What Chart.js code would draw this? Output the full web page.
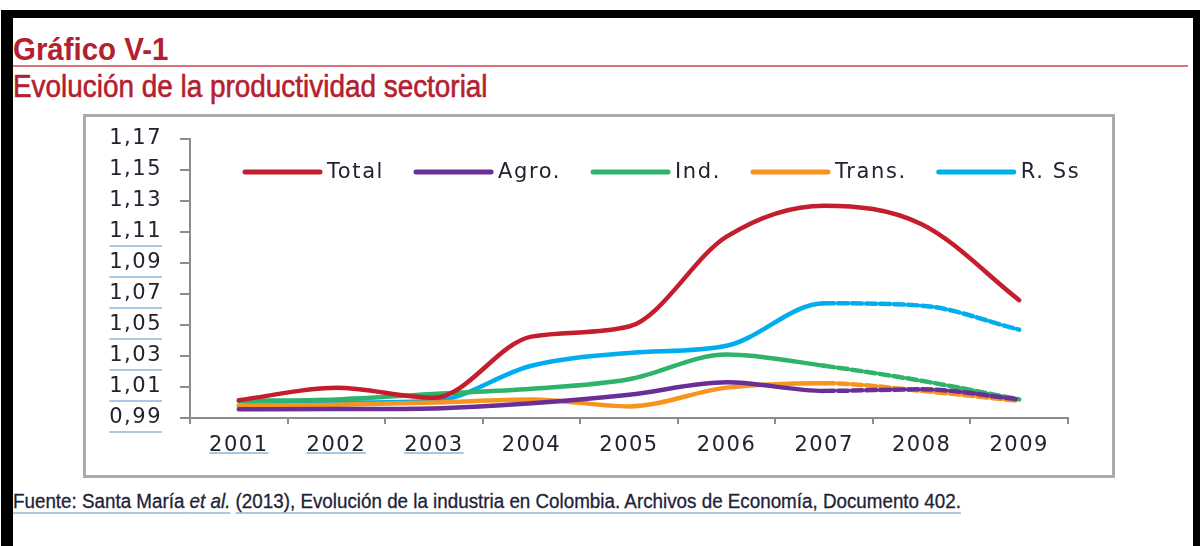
<!DOCTYPE html>
<html lang="es">
<head>
<meta charset="utf-8">
<title>Gráfico V-1</title>
<script src="https://cdn.jsdelivr.net/npm/chart.js@4.4.1/dist/chart.umd.min.js"></script>
<style>
  html, body { margin: 0; padding: 0; background: #fff; }
  body { width: 1200px; height: 546px; position: relative; overflow: hidden; }
  .frame {
    position: absolute; left: 1px; top: 10px; width: 1199px; height: 600px;
    box-sizing: border-box; border: 8px solid #000; border-left-width: 12px; border-right-width: 7px; border-bottom: none;
  }
  .title, .subtitle, .source { position: absolute; left: 13px; white-space: nowrap; line-height: 1;
    font-family: "Liberation Sans", sans-serif; transform-origin: left top; }
  .title { top: 34px; font-size: 31px; font-weight: bold; color: #b5202f; transform: scale(0.95, 1); }
  .rule { position: absolute; left: 13px; top: 65px; width: 1175px; height: 2px; background: #d9737d; }
  .subtitle { top: 71px; font-size: 31px; color: #b5202f; -webkit-text-stroke: 0.6px #b5202f; transform: scale(0.9, 1); }
  .source { top: 491px; font-size: 20px; color: #1d2338; -webkit-text-stroke: 0.3px #1d2338; transform: scale(0.94, 1); }
  .source .u { text-decoration: underline; text-decoration-color: #a9c8e4; text-decoration-thickness: 2px; text-underline-offset: 4px; }
  .box {
    position: absolute; left: 83px; top: 114px; width: 1032px; height: 364px;
    box-sizing: border-box; border: 3px solid #ababab; background: #fff;
  }
  .box canvas { position: absolute; left: 0; top: 0; }
</style>
</head>
<body>
<div class="frame"></div>
<div class="title">Gráfico V-1</div>
<div class="rule"></div>
<div class="subtitle">Evolución de la productividad sectorial</div>
<div class="box"><canvas id="chart" width="1026" height="358"></canvas></div>
<div class="source"><span class="u">Fuente: Santa María <i>et al.</i></span> <span class="u">(2013), Evolución de la industria en Colombia. Archivos de Economía, Documento 402.</span></div>

<script>
// datos
const years = ['2001', '2002', '2003', '2004', '2005', '2006', '2007', '2008', '2009'];
const total = [1.0015, 1.0095, 1.003, 1.0425, 1.049, 1.107, 1.127, 1.115, 1.066];
const agro = [0.9956, 0.9958, 0.9962, 0.9995, 1.005, 1.013, 1.0075, 1.0085, 1.002];
const ind = [1.001, 1.002, 1.0055, 1.0088, 1.015, 1.031, 1.0237, 1.014, 1.002];
const trans = [0.998, 0.9985, 1.000, 1.002, 0.9975, 1.0096, 1.0125, 1.0075, 1.001];
const rss = [0.9978, 1.000, 1.001, 1.0237, 1.032, 1.0366, 1.064, 1.0625, 1.047];
const yTicks = [0.99, 1.01, 1.03, 1.05, 1.07, 1.09, 1.11, 1.13, 1.15, 1.17];

const colors = {
  total: '#c41e2d',
  agro: '#6a2f96',
  ind: '#2fb36b',
  trans: '#f7941d',
  rss: '#00adee',
  axis: '#8c8c8c',
  text: '#232330',
  underline: '#a9c8e4'
};

const FONT = '"DejaVu Sans", sans-serif';
const SPACING = '1.5px';

// el tramo 2007-2009 va punteado (proyección)
const dashAfter2007 = ctx => ctx.p0DataIndex >= 6 ? [10, 4] : undefined;

function series(label, data, color, dashed) {
  return {
    label,
    data,
    borderColor: color,
    backgroundColor: color,
    borderWidth: 4.5,
    pointRadius: 0,
    cubicInterpolationMode: 'monotone',
    borderCapStyle: 'round',
    fill: false,
    segment: dashed ? { borderDash: dashAfter2007 } : undefined
  };
}

const spacingPlugin = {
  id: 'spacing',
  beforeLayout(chart) { chart.ctx.letterSpacing = SPACING; },
  beforeDraw(chart) { chart.ctx.letterSpacing = SPACING; }
};

// leyenda dentro del área del gráfico, en una sola fila
const innerLegend = {
  id: 'innerLegend',
  afterDatasetsDraw(chart) {
    const ctx = chart.ctx;
    let x = 159;
    const y = 55;
    ctx.save();
    ctx.letterSpacing = '1.6px';
    ctx.font = '21px ' + FONT;
    ctx.textBaseline = 'middle';
    chart.data.datasets.forEach(ds => {
      ctx.strokeStyle = ds.borderColor;
      ctx.lineWidth = 5;
      ctx.lineCap = 'round';
      ctx.setLineDash([]);
      ctx.beginPath();
      ctx.moveTo(x, y);
      ctx.lineTo(x + 75, y);
      ctx.stroke();
      ctx.fillStyle = colors.text;
      ctx.fillText(ds.label, x + 82, y + 1);
      x += 82 + ctx.measureText(ds.label).width + 32;
    });
    ctx.restore();
  }
};

// subrayados azules claros bajo algunas etiquetas (como en el original)
const labelUnderlines = {
  id: 'labelUnderlines',
  afterDraw(chart) {
    const ctx = chart.ctx;
    const { x, y } = chart.scales;
    ctx.save();
    ctx.letterSpacing = SPACING;
    ctx.font = '21px ' + FONT;
    ctx.strokeStyle = colors.underline;
    ctx.lineWidth = 2;
    y.ticks.forEach(t => {
      if (t.value > 1.115) return;
      const yy = y.getPixelForValue(t.value) + 14;
      const right = chart.chartArea.left - 28;
      const w = ctx.measureText(t.value.toFixed(2).replace('.', ',')).width;
      ctx.beginPath(); ctx.moveTo(right - w, yy); ctx.lineTo(right, yy); ctx.stroke();
    });
    [0, 1, 2].forEach(i => {
      const cx = x.getPixelForTick(i);
      const w = ctx.measureText(years[i]).width;
      const yy = chart.chartArea.bottom + 35;
      ctx.beginPath(); ctx.moveTo(cx - w / 2, yy); ctx.lineTo(cx + w / 2, yy); ctx.stroke();
    });
    ctx.restore();
  }
};

new Chart(document.getElementById('chart'), {
  type: 'line',
  data: {
    labels: years,
    datasets: [
      series('Total', total, colors.total, false),
      series('Agro.', agro, colors.agro, true),
      series('Ind.', ind, colors.ind, true),
      series('Trans.', trans, colors.trans, true),
      series('R. Ss', rss, colors.rss, true)
    ]
  },
  options: {
    responsive: false,
    animation: false,
    layout: { padding: { left: 0, right: 44, top: 22, bottom: 0 } },
    plugins: { legend: { display: false }, tooltip: { enabled: false } },
    scales: {
      x: {
        offset: true,
        grid: { display: true, offset: true, drawOnChartArea: false, tickLength: 6, color: colors.axis, lineWidth: 2 },
        border: { color: colors.axis, width: 2 },
        ticks: { color: colors.text, font: { family: FONT, size: 21 }, padding: 9, maxRotation: 0 },
        afterFit(scale) { scale.height = 57; }
      },
      y: {
        min: 0.99,
        max: 1.17,
        afterBuildTicks(scale) { scale.ticks = yTicks.map(v => ({ value: v })); },
        grid: { drawOnChartArea: false, tickLength: 10, color: colors.axis, lineWidth: 2 },
        border: { color: colors.axis, width: 2 },
        ticks: {
          color: colors.text,
          font: { family: FONT, size: 21 },
          padding: 18,
          callback: v => v.toFixed(2).replace('.', ',')
        },
        afterFit(scale) {
          scale.width = 104;
          scale.paddingTop = 0;
          scale.paddingBottom = 0;
        }
      }
    }
  },
  plugins: [spacingPlugin, innerLegend, labelUnderlines]
});
</script>
</body>
</html>
